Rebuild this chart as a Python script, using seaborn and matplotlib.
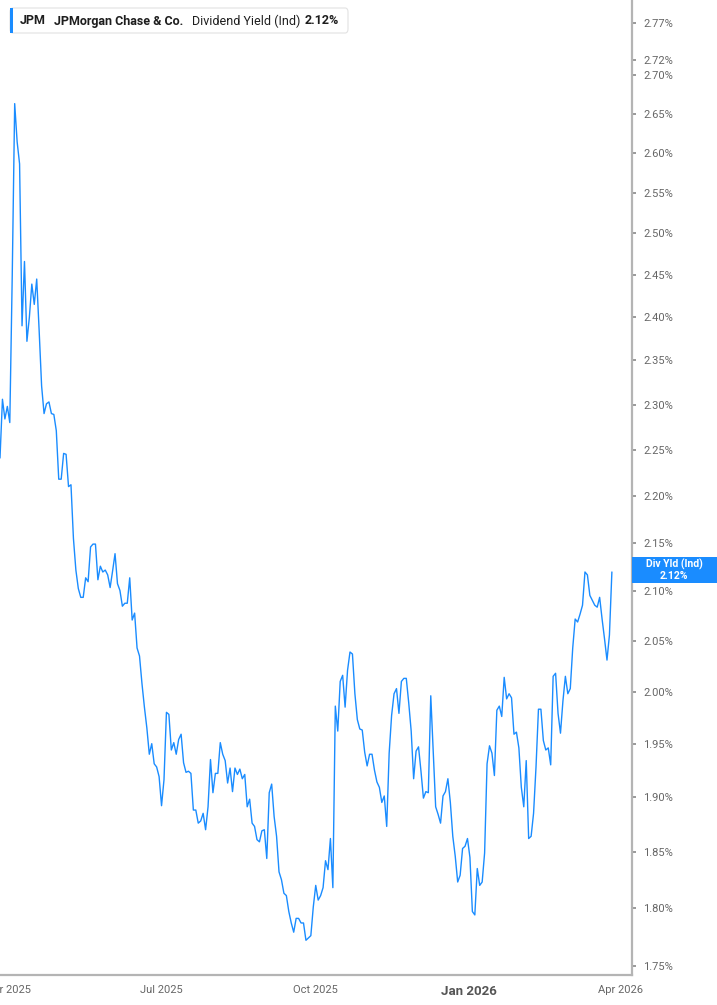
import pandas as pd
import matplotlib
matplotlib.use("Agg")
import matplotlib.pyplot as plt
import matplotlib.dates as mdates
from matplotlib.ticker import FixedLocator, FixedFormatter, NullLocator
from matplotlib.patches import FancyBboxPatch, Rectangle
import seaborn as sns

# Header / label texts
TICKER = "JPM"
COMPANY = "JPMorgan Chase & Co."
METRIC = "Dividend Yield (Ind)"
LAST_VALUE = "2.12%"
BADGE_NAME = "Div Yld (Ind)"

# Daily dividend yield (%), Mar 27 2025 -> Mar 27 2026
start_date = "2025-03-27"
end_date = "2026-03-27"
div_yield = [
    2.241, 2.306, 2.284, 2.298, 2.280, 2.449, 2.663, 2.614, 2.586, 2.390,
    2.466, 2.372, 2.400, 2.439, 2.415, 2.445, 2.384, 2.321, 2.290, 2.301,
    2.303, 2.290, 2.289, 2.271, 2.218, 2.218, 2.246, 2.245, 2.210, 2.212,
    2.155, 2.122, 2.103, 2.094, 2.094, 2.114, 2.110, 2.146, 2.149, 2.149,
    2.112, 2.126, 2.120, 2.122, 2.117, 2.104, 2.121, 2.139, 2.108, 2.101,
    2.085, 2.088, 2.088, 2.114, 2.071, 2.078, 2.043, 2.035, 2.008, 1.985,
    1.965, 1.940, 1.950, 1.931, 1.928, 1.919, 1.892, 1.916, 1.980, 1.978,
    1.944, 1.951, 1.940, 1.954, 1.959, 1.932, 1.923, 1.924, 1.922, 1.888,
    1.888, 1.876, 1.878, 1.885, 1.870, 1.891, 1.935, 1.904, 1.922, 1.922,
    1.951, 1.940, 1.934, 1.913, 1.927, 1.905, 1.927, 1.921, 1.926, 1.917,
    1.921, 1.891, 1.898, 1.876, 1.873, 1.861, 1.859, 1.869, 1.870, 1.844,
    1.904, 1.912, 1.882, 1.864, 1.832, 1.825, 1.813, 1.811, 1.797, 1.787,
    1.779, 1.791, 1.791, 1.787, 1.787, 1.772, 1.774, 1.776,
    1.801, 1.820, 1.807, 1.811, 1.818, 1.842, 1.834, 1.862, 1.818, 1.986,
    1.962, 2.010, 2.016, 1.985, 2.021, 2.039, 2.037, 1.998, 1.973, 1.964,
    1.963, 1.942, 1.929, 1.940, 1.940, 1.925, 1.914, 1.909, 1.895, 1.901,
    1.873, 1.941, 1.977, 1.998, 2.003, 1.979, 2.010, 2.013, 2.013, 1.989,
    1.962, 1.917, 1.943, 1.947, 1.924, 1.899, 1.905, 1.904, 1.996, 1.942,
    1.891, 1.884, 1.876, 1.901, 1.905, 1.917, 1.895, 1.864, 1.846, 1.823,
    1.829, 1.853, 1.855, 1.862, 1.845, 1.797, 1.794,
    1.835, 1.820, 1.823, 1.849, 1.931, 1.948, 1.941, 1.920, 1.982, 1.986,
    1.976, 2.014, 1.993, 1.998, 1.994, 1.959, 1.961, 1.946, 1.909, 1.891,
    1.934, 1.862, 1.864, 1.885, 1.928, 1.983, 1.983, 1.953, 1.944, 1.946,
    1.930, 2.015, 2.018, 1.979, 1.960, 1.991, 2.015, 1.998, 2.003, 2.043,
    2.072, 2.069, 2.077, 2.086, 2.120, 2.117, 2.096, 2.091, 2.086, 2.084,
    2.094, 2.072, 2.052, 2.031, 2.056, 2.120,
]

# Axis ticks
y_ticks = [1.75, 1.80, 1.85, 1.90, 1.95, 2.00, 2.05, 2.10, 2.15, 2.20,
           2.25, 2.30, 2.35, 2.40, 2.45, 2.50, 2.55, 2.60, 2.65, 2.70,
           2.72, 2.77]
x_tick_dates = ["2025-04-01", "2025-07-01", "2025-10-01", "2026-01-01", "2026-04-01"]
x_tick_labels = ["Apr 2025", "Jul 2025", "Oct 2025", "Jan 2026", "Apr 2026"]

BLUE = "#1a8cff"
GREY_TXT = "#666666"
AXIS_GREY = "#b4b4b4"

df = pd.DataFrame({
    "date": pd.date_range(start_date, end_date, periods=len(div_yield)),
    "yield": div_yield,
})

sns.set_style("white")
plt.rcParams["font.family"] = ["Roboto", "DejaVu Sans"]

W, H = 717, 1005
fig = plt.figure(figsize=(W / 100, H / 100), dpi=100)
ax = fig.add_axes([0, 1 - 975 / H, 632 / W, 975 / H])

sns.lineplot(data=df, x="date", y="yield", ax=ax, color=BLUE, linewidth=1.0)

ax.set_yscale("log")
ax.set_ylim(1.7423, 2.8008)
ax.set_xlim(mdates.date2num(pd.Timestamp("2025-03-27")),
            mdates.date2num(pd.Timestamp("2026-04-08")))

# y axis on the right
ax.yaxis.tick_right()
ax.yaxis.set_major_locator(FixedLocator(y_ticks))
ax.yaxis.set_major_formatter(FixedFormatter([f"{v:.2f}%" for v in y_ticks]))
ax.yaxis.set_minor_locator(NullLocator())
ax.tick_params(axis="y", which="major", right=True, left=False, direction="out",
               length=3, width=1.2, color="#888888", pad=5,
               labelsize=8, labelcolor=GREY_TXT)

# x axis
ax.set_xticks([mdates.date2num(pd.Timestamp(d)) for d in x_tick_dates])
ax.set_xticklabels(x_tick_labels)
ax.tick_params(axis="x", direction="out", length=4, width=1, color=AXIS_GREY,
               pad=3, labelsize=8, labelcolor=GREY_TXT)
for lbl in ax.get_xticklabels():
    if lbl.get_text() == "Jan 2026":
        lbl.set_fontweight("bold")
        lbl.set_fontsize(9.5)
        lbl.set_color("#555555")

ax.set_xlabel("")
ax.set_ylabel("")
ax.grid(False)
for side in ["left", "top"]:
    ax.spines[side].set_visible(False)
for side in ["right", "bottom"]:
    ax.spines[side].set_color(AXIS_GREY)
    ax.spines[side].set_linewidth(1.6)


def fx(px):
    return px / W


def fy(py):
    return 1 - py / H


# header box
box = FancyBboxPatch((fx(10), fy(33)), fx(348) - fx(10), fy(8) - fy(33),
                     boxstyle="round,pad=0,rounding_size=0.004",
                     transform=fig.transFigure, facecolor="white",
                     edgecolor="#e2e2e2", linewidth=0.8, zorder=5)
fig.patches.append(box)
bar = Rectangle((fx(10), fy(33)), fx(3), fy(8) - fy(33), transform=fig.transFigure,
                facecolor=BLUE, edgecolor="none", zorder=6)
fig.patches.append(bar)

ty = fy(21)
hdr = dict(fontsize=9, color="#1e1e1e", va="center", zorder=10)
fig.text(fx(20), ty, TICKER, fontweight="bold", **hdr)
fig.text(fx(54), ty, COMPANY, fontweight="bold", **hdr)
fig.text(fx(192), ty, METRIC, **hdr)
fig.text(fx(305), ty, LAST_VALUE, fontweight="bold", **hdr)

# last value badge on the right axis
badge = Rectangle((fx(632), fy(583)), fx(717) - fx(632), fy(557) - fy(583),
                  transform=fig.transFigure, facecolor=BLUE, edgecolor="none",
                  zorder=6)
fig.patches.append(badge)
fig.text(fx(674), fy(564), BADGE_NAME, fontsize=7.5, fontweight="bold",
         color="white", ha="center", va="center", zorder=10)
fig.text(fx(674), fy(576), LAST_VALUE, fontsize=7.5, fontweight="bold",
         color="white", ha="center", va="center", zorder=10)

fig.savefig("out.png", dpi=100)
